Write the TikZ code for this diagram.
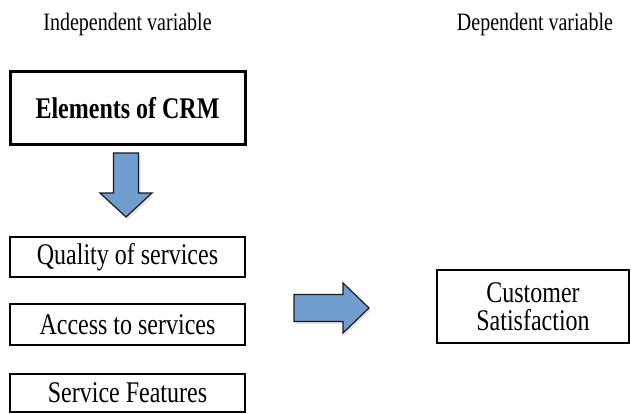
\documentclass[tikz,border=0pt]{standalone}
\usepackage{fontspec}
\setmainfont[FakeStretch=0.8]{Liberation Serif}
\usetikzlibrary{positioning, calc, shadows}
\definecolor{arrowblue}{HTML}{729ECF}
\definecolor{arrowline}{HTML}{1A1A1A}

\begin{document}
\begin{tikzpicture}[x=1pt, y=-1pt, font=\fontsize{30}{28}\selectfont,
  varbox/.style={draw=black, line width=2.2pt, minimum width=235pt, inner sep=0pt},
  headtext/.style={font=\fontsize{25}{28}\selectfont},
  blockarrow/.style={fill=arrowblue, draw=arrowline, line width=1.2pt,
    drop shadow={opacity=0.2, shadow xshift=2pt, shadow yshift=-2.5pt}}]
  \useasboundingbox (0,0) rectangle (631,414);

  \node[headtext] (indep) at (127.5,24) {Independent variable};
  \node[headtext] (dep) at (535,24) {Dependent variable};

  \node[varbox, line width=3pt, minimum height=73pt, font=\fontsize{30}{28}\selectfont\bfseries] (crm) at (127.5,108.5) {Elements of CRM};
  \node[varbox, minimum height=40pt] (quality) at (127.5,257) {Quality of services};
  \node[varbox, minimum height=41pt] (access) at (127.5,324.5) {Access to services};
  \node[varbox, minimum height=38pt] (features) at (127.5,393) {Service Features};
  \node[varbox, minimum width=192pt, minimum height=73pt, align=center] (satisf) at (533,306.5) {Customer\\Satisfaction};

  % block arrows
  \coordinate (down) at ($(crm.south)+(-1.5,6.5)$);
  \coordinate (right) at (294,308);
  \begin{scope}[shift={(down)}]
    \draw[blockarrow] (-12.5,0) -- (12.5,0) -- (12.5,40) -- (26,40) -- (0,64) -- (-26,40) -- (-12.5,40) -- cycle;
  \end{scope}
  \begin{scope}[shift={(right)}]
    \draw[blockarrow] (0,-13.5) -- (49,-13.5) -- (49,-25) -- (75,0) -- (49,25) -- (49,13.5) -- (0,13.5) -- cycle;
  \end{scope}
\end{tikzpicture}
\end{document}
